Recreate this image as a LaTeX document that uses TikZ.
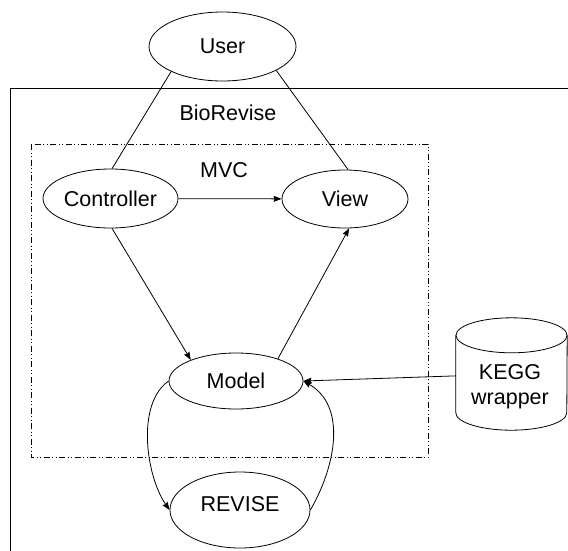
\documentclass[tikz,border=0pt]{standalone}
\usepackage{fontspec}
\setmainfont{Liberation Sans}
\usetikzlibrary{shapes.geometric,arrows.meta,calc}
\begin{document}
\begin{tikzpicture}[x=1pt,y=-1pt,
  every node/.style={font=\fontsize{21.5}{25}\selectfont},
  oval/.style={draw, ellipse, inner sep=0pt, line width=0.8pt},
  link/.style={line width=0.8pt},
  flow/.style={line width=0.8pt, -{Stealth[length=8pt,width=6pt,inset=1pt]}},
  mvcframe/.style={line width=0.7pt,
    dash pattern=on 6pt off 2.5pt on 1pt off 2.5pt on 1pt off 2.5pt}]
\useasboundingbox (0,0) rectangle (568,550);
\clip (0,0) rectangle (568,550);

% system boundary and MVC package
\draw[link] (10,580) -- (10,88) -- (590,88);
\draw[mvcframe] (31,144) rectangle (428,457);
\node (biorevise) at (228,113) {BioRevise};
\node (mvc) at (224,170) {MVC};

% components
\node[oval, minimum width=147pt, minimum height=69pt] (user) at (222.5,46.5) {User};
\node[oval, minimum width=135pt, minimum height=59pt] (ctrl) at (110.5,198.5) {Controller};
\node[oval, minimum width=126pt, minimum height=58pt] (view) at (345,199) {View};
\node[oval, minimum width=134pt, minimum height=56pt] (model) at (236,381) {Model};
\node[oval, minimum width=140pt, minimum height=76pt] (revise) at (240,510) {};
\node (revisetext) at (240,504) {REVISE};

% KEGG wrapper drawn as a cylinder
\node[rectangle, inner sep=0pt, minimum width=111pt, minimum height=112pt] (kegg) at (511.5,374) {};
\draw[link] ($(kegg.north)+(0,17.5)$) ellipse [x radius=55.5pt, y radius=17.5pt];
\draw[link] ($(kegg.north west)+(0,17.5)$) -- ($(kegg.south west)+(0,-17.5)$)
  arc[start angle=180, end angle=360, x radius=55.5pt, y radius=17.5pt]
  -- ($(kegg.north east)+(0,17.5)$);
\node[align=center] (kegglabel) at (510,387) {KEGG\\wrapper};

% connectors
\draw[link] (user.206) -- (ctrl.87);
\draw[link] (user.336) -- (view.84);
\draw[flow] (ctrl) -- (view);
\draw[flow] (ctrl.273) -- (model.155);
\draw[flow] (model.28) -- (view.278);
\draw[flow] (kegg) -- (model.east);
\draw[flow] (model.west) to[out=215, in=125, looseness=0.8] (revise.west);
\draw[flow] (revise.east) to[out=60, in=-30, looseness=1] (model.east);
\end{tikzpicture}
\end{document}
